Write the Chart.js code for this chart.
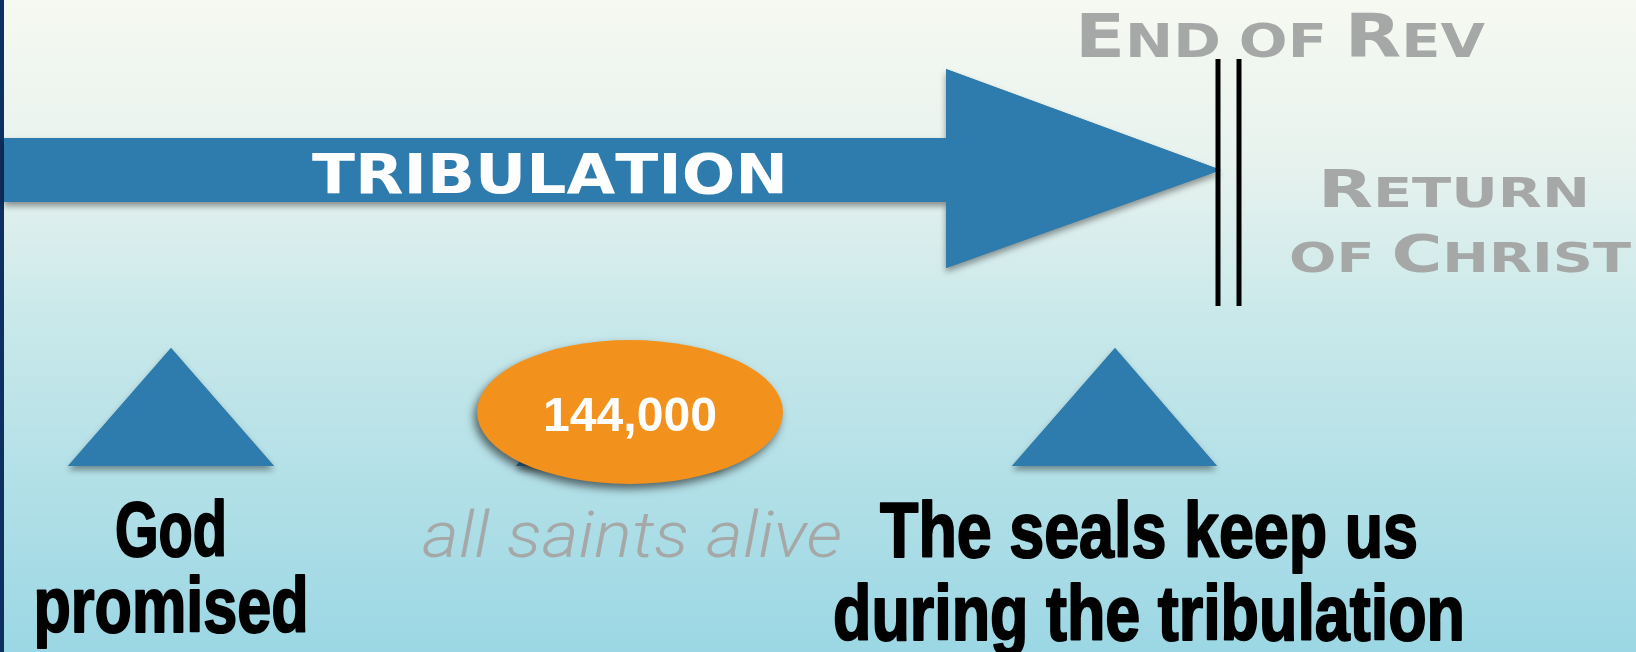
<!DOCTYPE html>
<html>
<head>
<meta charset="utf-8">
<script src="https://cdn.jsdelivr.net/npm/chart.js@4.4.1/dist/chart.umd.min.js"></script>
<style>
    html, body { margin: 0; padding: 0; overflow: hidden; background: #ffffff; }
    #quadro { width: 1636px; height: 652px; }
</style>
</head>
<body>
<div id="quadro"><canvas id="grafico" width="1636" height="652"></canvas></div>
<script>
// vertices das formas, em pixels do slide (x para a direita, y para baixo)
const setaX = [4, 946, 946, 1221, 946, 946, 4];
const setaY = [138, 138, 69, 170, 268, 202, 202];

const trianguloDeusX = [68, 171, 274];
const trianguloDeusY = [466, 348, 466];
const trianguloMeioX = [516, 619, 722];
const trianguloMeioY = [466, 348, 466];
const trianguloSelosX = [1012, 1115, 1217];
const trianguloSelosY = [466, 348, 466];

const marcoEsquerdoX = [1218, 1218];
const marcoDireitoX = [1239, 1239];
const marcoY = [59, 306];

const elipseX = [630];
const elipseY = [412];

// textos
const rotuloFim = "End of Rev";
const rotuloVolta = ["Return", "of Christ"];
const rotuloSeta = "TRIBULATION";
const rotuloElipse = "144,000";
const rotuloSantos = "all saints alive";
const rotuloDeus = ["God", "promised"];
const rotuloSelos = ["The seals keep us", "during the tribulation"];

const corAzul = `#2e7bad`;
const corCinza = `#a5a8a7`;
const corLaranja = `#f3911d`;
const fonteLarga = `'DejaVu Sans', sans-serif`;
const fonteEstreita = `'Liberation Sans', Arial, sans-serif`;

const pontos = (xs, ys) => xs.map((x, i) => ({ x: x, y: ys[i] }));

// layout dos textos (posicao = centro da linha de base)
const textos = [
    { texto: rotuloFim, x: 1280, y: 57, peso: "bold", grande: 60, pequeno: 47, largura: 410, familia: fonteLarga, cor: corCinza },
    { texto: rotuloVolta[0], x: 1454, y: 207, peso: "bold", grande: 51, pequeno: 41, largura: 272, familia: fonteLarga, cor: corCinza },
    { texto: rotuloVolta[1], x: 1460, y: 272, peso: "bold", grande: 51, pequeno: 41, largura: 342, familia: fonteLarga, cor: corCinza },
    { texto: rotuloSeta, x: 550, y: 193, peso: "bold", grande: 55, pequeno: 55, largura: 476, familia: fonteLarga, cor: "#ffffff" },
    { texto: rotuloElipse, x: 630, y: 431, peso: "bold", grande: 48, largura: 174, familia: `'Liberation Sans', Arial, sans-serif`, cor: "#ffffff" },
    { texto: rotuloSantos, x: 632, y: 557, peso: "italic 300", grande: 64, largura: 420, familia: `Roboto, 'Liberation Sans', sans-serif`, cor: corCinza },
    { texto: rotuloDeus[0], x: 171, y: 556, peso: "bold", grande: 77, largura: 112, familia: fonteEstreita, cor: "#000000", contorno: 2 },
    { texto: rotuloDeus[1], x: 171, y: 632, peso: "bold", grande: 77, largura: 275, familia: fonteEstreita, cor: "#000000", contorno: 2 },
    { texto: rotuloSelos[0], x: 1149, y: 557, peso: "bold", grande: 77, largura: 538, familia: fonteEstreita, cor: "#000000", contorno: 2 },
    { texto: rotuloSelos[1], x: 1149, y: 640, peso: "bold", grande: 77, largura: 632, familia: fonteEstreita, cor: "#000000", contorno: 2 },
];

function criarImagemElipse() {
    const rx = 153, ry = 72, margem = 30;
    const tela = document.createElement("canvas");
    tela.width = 2 * (rx + margem);
    tela.height = 2 * (ry + margem);
    const c = tela.getContext("2d");
    c.shadowColor = "rgba(0, 0, 0, 0.55)";
    c.shadowBlur = 8;
    c.shadowOffsetX = -3;
    c.shadowOffsetY = 5;
    c.fillStyle = corLaranja;
    c.beginPath();
    c.ellipse(tela.width / 2, tela.height / 2, rx, ry, 0, 0, Math.PI * 2);
    c.fill();
    return tela;
}

const fundo = {
    id: "fundo",
    beforeDraw(chart) {
        const ctx = chart.ctx;
        const gradiente = ctx.createLinearGradient(0, 0, 0, chart.height);
        gradiente.addColorStop(0, "#f6f9f1");
        gradiente.addColorStop(0.25, "#e7f2ee");
        gradiente.addColorStop(0.5, "#c8e8ea");
        gradiente.addColorStop(1, "#9bd7e4");
        ctx.save();
        ctx.fillStyle = gradiente;
        ctx.fillRect(0, 0, chart.width, chart.height);
        ctx.fillStyle = "#0d3060";
        ctx.fillRect(0, 0, 4, chart.height);
        ctx.restore();
    }
};

const sombras = {
    id: "sombras",
    beforeDatasetsDraw(chart) {
        const ctx = chart.ctx;
        chart.data.datasets.forEach((ds, i) => {
            if (!ds.sombra) return;
            const meta = chart.getDatasetMeta(i);
            ctx.save();
            ctx.shadowColor = "rgba(0, 0, 0, 0.4)";
            ctx.shadowBlur = 6;
            ctx.shadowOffsetY = 4;
            ctx.fillStyle = ds.backgroundColor;
            ctx.beginPath();
            meta.dataset.path(ctx);
            ctx.closePath();
            ctx.fill();
            ctx.restore();
        });
    }
};

function desenharTexto(chart, t) {
    const ctx = chart.ctx;
    const px = chart.scales.x.getPixelForValue(t.x);
    const py = chart.scales.y.getPixelForValue(t.y);
    const pedacos = t.pequeno
        ? [...t.texto].map(c => ({ c: c.toUpperCase(), tam: (c !== c.toUpperCase()) ? t.pequeno : t.grande, espaco: c === " " }))
        : [{ c: t.texto, tam: t.grande }];

    ctx.save();
    let total = 0;
    pedacos.forEach(p => {
        ctx.font = `${t.peso} ${p.tam}px ${t.familia}`;
        p.w = ctx.measureText(p.c).width * (p.espaco ? 0.7 : 1);
        total += p.w;
    });
    ctx.translate(px, py);
    ctx.scale(t.largura / total, 1);
    ctx.fillStyle = t.cor;
    ctx.strokeStyle = t.cor;
    ctx.lineJoin = "round";
    ctx.textAlign = "left";
    ctx.textBaseline = "alphabetic";
    let x = -total / 2;
    pedacos.forEach(p => {
        ctx.font = `${t.peso} ${p.tam}px ${t.familia}`;
        ctx.fillText(p.c, x, 0);
        if (t.contorno) {
            ctx.lineWidth = t.contorno;
            ctx.strokeText(p.c, x, 0);
        }
        x += p.w;
    });
    ctx.restore();
}

const rotulos = {
    id: "rotulos",
    afterDatasetsDraw(chart) {
        textos.forEach(t => desenharTexto(chart, t));
    }
};

function forma(dados, ordem, sombra) {
    return {
        data: dados,
        fill: "shape",
        backgroundColor: corAzul,
        borderWidth: 0,
        pointRadius: 0,
        order: ordem,
        sombra: sombra
    };
}

function marco(xs) {
    return {
        data: pontos(xs, marcoY),
        fill: false,
        borderColor: "#000000",
        borderWidth: 5,
        pointRadius: 0,
        order: 2
    };
}

const ctx = document.querySelector("#grafico");

new Chart(ctx, {
    type: "line",
    data: {
        datasets: [
            forma(pontos(setaX, setaY), 6, true),
            forma(pontos(trianguloDeusX, trianguloDeusY), 5, true),
            forma(pontos(trianguloMeioX, trianguloMeioY), 4, true),
            forma(pontos(trianguloSelosX, trianguloSelosY), 5, true),
            marco(marcoEsquerdoX),
            marco(marcoDireitoX),
            {
                data: pontos(elipseX, elipseY),
                showLine: false,
                pointStyle: criarImagemElipse(),
                pointRadius: 10,
                order: 1
            }
        ]
    },
    options: {
        responsive: false,
        animation: false,
        events: [],
        layout: { autoPadding: false, padding: 0 },
        plugins: {
            legend: { display: false },
            tooltip: { enabled: false }
        },
        elements: { line: { tension: 0 } },
        scales: {
            x: { type: "linear", min: 0, max: 1636, display: false },
            y: { type: "linear", min: 0, max: 652, reverse: true, display: false }
        }
    },
    plugins: [fundo, sombras, rotulos]
});
</script>
</body>
</html>
